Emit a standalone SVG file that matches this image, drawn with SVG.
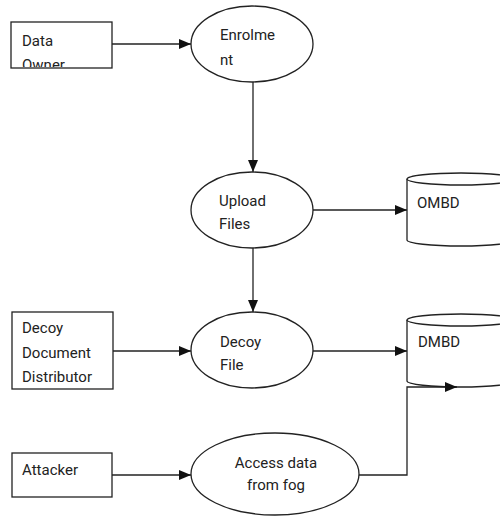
<svg xmlns="http://www.w3.org/2000/svg" width="500" height="517" viewBox="0 0 500 517">
<style>
.sh{fill:#fff;stroke:#222;stroke-width:1.3}
.t{font-family:Roboto,"Liberation Sans",sans-serif;font-size:15px;fill:#222}
.c{fill:none;stroke:#222;stroke-width:1.3}
</style>
<defs>
<marker id="ah" markerWidth="12" markerHeight="10" refX="12" refY="5" orient="auto" markerUnits="userSpaceOnUse">
<path d="M0,0 L12,5 L0,10 Z" fill="#111"/>
</marker>
<clipPath id="clipOwner"><rect x="11" y="22" width="101" height="45"/></clipPath>
</defs>
<rect width="500" height="517" fill="#fff"/>
<g id="connectors">
<line class="c" x1="112" y1="44" x2="191" y2="44" marker-end="url(#ah)"/>
<line class="c" x1="253" y1="82" x2="253" y2="172" marker-end="url(#ah)"/>
<line class="c" x1="313" y1="210" x2="407" y2="210" marker-end="url(#ah)"/>
<line class="c" x1="253" y1="248" x2="253" y2="312" marker-end="url(#ah)"/>
<line class="c" x1="113" y1="351" x2="191" y2="351" marker-end="url(#ah)"/>
<line class="c" x1="313" y1="351" x2="407" y2="351" marker-end="url(#ah)"/>
<line class="c" x1="112" y1="475" x2="191" y2="475" marker-end="url(#ah)"/>
</g>
<g id="data-owner">
<rect class="sh" x="11" y="22" width="101" height="46"/>
<g clip-path="url(#clipOwner)">
<text class="t" x="22" y="46">Data</text>
<text class="t" x="22" y="70">Owner</text>
</g>
</g>
<g id="enrolment">
<ellipse class="sh" cx="252" cy="44" rx="61" ry="38"/>
<text class="t" x="220" y="40">Enrolme</text>
<text class="t" x="220" y="65">nt</text>
</g>
<g id="upload-files">
<ellipse class="sh" cx="252" cy="210" rx="61" ry="38"/>
<text class="t" x="219" y="206">Upload</text>
<text class="t" x="219" y="229">Files</text>
</g>
<g id="ombd">
<path class="sh" d="M407,179 L407,240 A54,6 0 0 0 515,240 L515,179"/>
<ellipse class="sh" cx="461" cy="179" rx="54" ry="6"/>
<text class="t" x="417" y="208">OMBD</text>
</g>
<g id="decoy-distributor">
<rect class="sh" x="12" y="312" width="101" height="77"/>
<text class="t" x="22" y="333">Decoy</text>
<text class="t" x="22" y="358">Document</text>
<text class="t" x="22" y="382">Distributor</text>
</g>
<g id="decoy-file">
<ellipse class="sh" cx="252" cy="350" rx="61" ry="38"/>
<text class="t" x="220" y="347">Decoy</text>
<text class="t" x="220" y="370">File</text>
</g>
<g id="dmbd">
<path class="sh" d="M407,320 L407,381 A54,6 0 0 0 515,381 L515,320"/>
<ellipse class="sh" cx="461" cy="320" rx="54" ry="6"/>
<text class="t" x="418" y="347">DMBD</text>
</g>
<g id="attacker">
<rect class="sh" x="12" y="453" width="100" height="44"/>
<text class="t" x="22" y="475">Attacker</text>
</g>
<g id="access-data">
<ellipse class="sh" cx="275" cy="474" rx="84" ry="41"/>
<text class="t" x="276" y="468" text-anchor="middle">Access data</text>
<text class="t" x="276" y="490" text-anchor="middle">from fog</text>
</g>
<g id="connectors-2">
<polyline class="c" points="359,475 407,475 407,387 457,387" marker-end="url(#ah)"/>
</g>
</svg>
